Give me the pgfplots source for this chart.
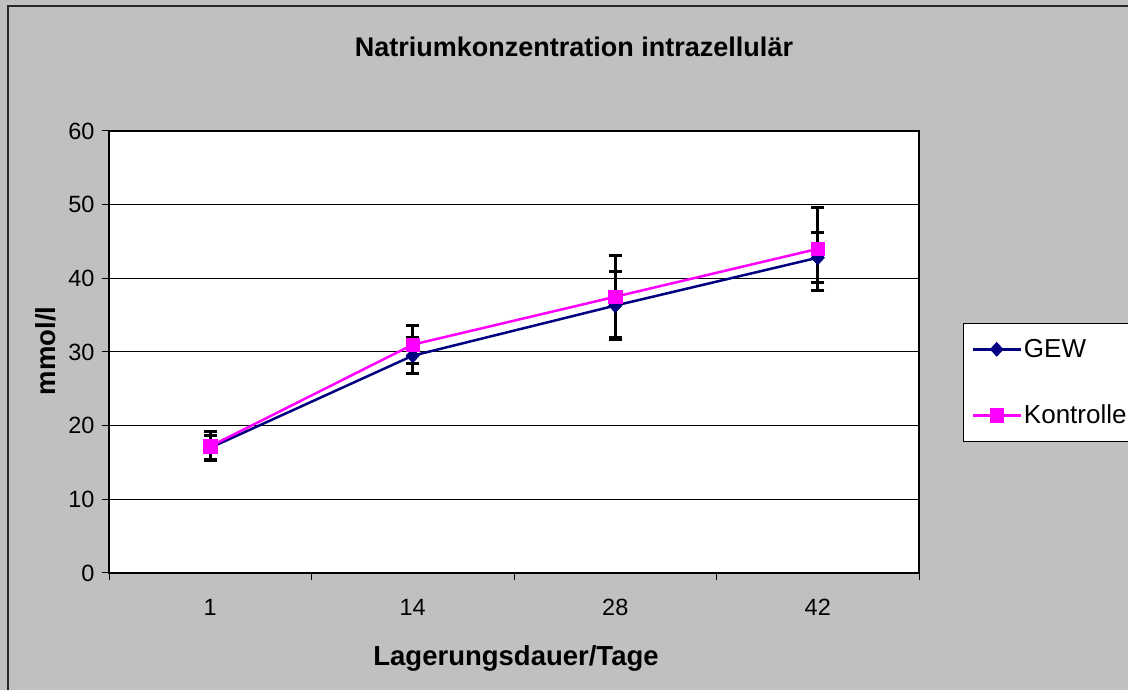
\documentclass[border=0pt]{standalone}
\usepackage{fontspec}
\setmainfont{Liberation Sans}
\usepackage{pgfplots}
\usepackage{pgfplotstable}
\pgfplotsset{compat=1.18}
\definecolor{bg}{HTML}{C0C0C0}
\definecolor{gewblue}{RGB}{0,0,128}
\definecolor{kmag}{RGB}{255,0,255}
\pgfplotstableread{
x y e
0 17.0 1.6
1 29.5 2.4
2 36.3 4.6
3 42.8 3.4
}\gew
\pgfplotstableread{
x y e
0 17.2 1.95
1 31.0 2.6
2 37.5 5.6
3 44.0 5.6
}\kon
\begin{document}
\begin{tikzpicture}
\useasboundingbox (0pt,0pt) rectangle (1128pt,690pt);
\clip (0pt,0pt) rectangle (1128pt,690pt);
\fill[bg] (0pt,0pt) rectangle (1128pt,690pt);
\draw[line width=2pt, black!85] (8pt,-5pt) -- (8pt,684pt) -- (1140pt,684pt);
\begin{axis}[
  at={(109pt,117pt)}, anchor=south west,
  scale only axis, width=810pt, height=442pt,
  xmin=-0.5, xmax=3.5, ymin=0, ymax=60,
  xtick={-0.5,0.5,1.5,2.5,3.5}, xticklabels={},
  extra x ticks={0,1,2,3}, extra x tick labels={1,14,28,42},
  extra x tick style={major tick length=0pt, xticklabel style={yshift=-23pt}},
  ytick={0,10,...,60},
  tick align=outside, xtick pos=bottom, ytick pos=left,
  major tick length=7pt,
  tick style={line width=1pt, black},
  ymajorgrids, major grid style={black, line width=1pt},
  axis line style={line width=2.5pt},
  axis background/.style={fill=white},
  /pgf/number format/assume math mode=true,
  ticklabel style={font=\fontsize{23.5}{28}\selectfont},
  yticklabel style={xshift=-4pt},
  legend style={at={(axis description cs:1.0543,0.5656)}, anchor=north west,
    draw=black, line width=1pt, fill=white,
    font=\fontsize{26}{30}\selectfont,
    inner xsep=8pt, inner ysep=14pt, row sep=42pt,
    nodes={inner sep=2pt}},
  legend cell align=left,
  legend image code/.code={\draw[mark repeat=2, mark phase=2] plot coordinates {(0pt,0pt) (24pt,0pt) (48pt,0pt)};},
]
\addplot[gewblue, line width=2.5pt, mark=diamond*, mark size=7pt,
  mark options={fill=gewblue, draw=gewblue, line width=0.5pt, xscale=1.25},
  error bars/.cd, y dir=both, y explicit,
  error bar style={line width=3pt, black},
  error mark options={rotate=90, black, line width=3pt, mark size=6.5pt}]
  table[x=x, y=y, y error=e]{\gew};
\addlegendentry{GEW}
\addplot[kmag, line width=2.5pt, mark=square*, mark size=6.8pt,
  mark options={fill=kmag, draw=kmag, line width=0.5pt},
  error bars/.cd, y dir=both, y explicit,
  error bar style={line width=3pt, black},
  error mark options={rotate=90, black, line width=3pt, mark size=6.5pt}]
  table[x=x, y=y, y error=e]{\kon};
\addlegendentry{Kontrolle}
\addplot[forget plot, only marks, mark=diamond*, mark size=7pt,
  mark options={fill=gewblue, draw=gewblue, line width=0.5pt, xscale=1.25}]
  table[x=x, y=y]{\gew};
\addplot[forget plot, only marks, mark=square*, mark size=6.8pt,
  mark options={fill=kmag, draw=kmag, line width=0.5pt}]
  table[x=x, y=y]{\kon};
\end{axis}
\node[anchor=base, font=\bfseries\fontsize{27}{32}\selectfont] at (574pt,633pt) {Natriumkonzentration intrazellulär};
\node[anchor=base, font=\bfseries\fontsize{27.5}{32}\selectfont] at (516pt,24pt) {Lagerungsdauer/Tage};
\node[anchor=base, rotate=90, font=\bfseries\fontsize{27.5}{32}\selectfont] at (55pt,339pt) {mmol/l};
\end{tikzpicture}
\end{document}
